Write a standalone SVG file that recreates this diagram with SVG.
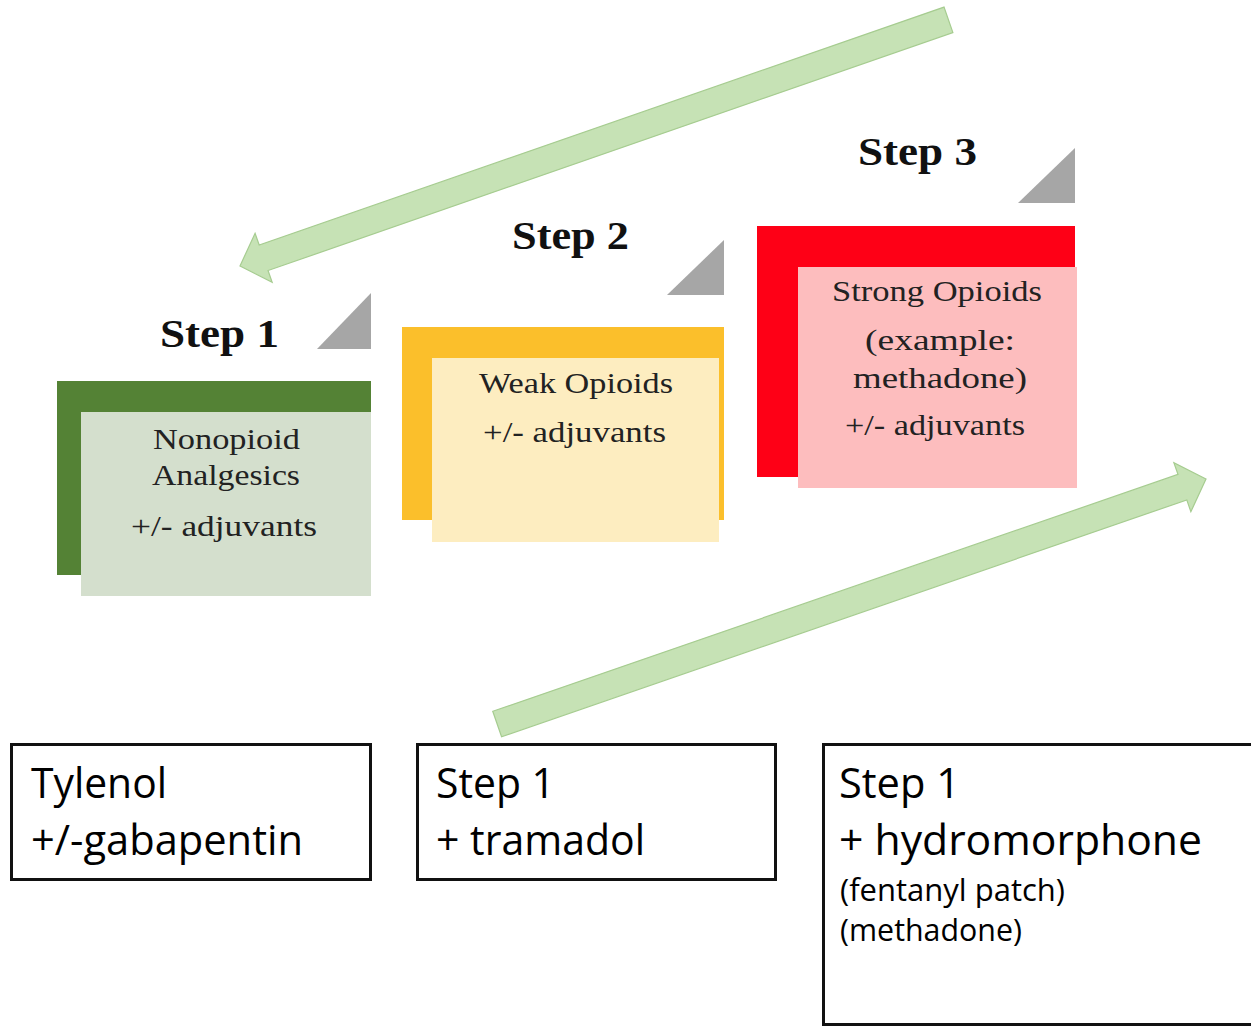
<svg xmlns="http://www.w3.org/2000/svg" width="1251" height="1027" viewBox="0 0 1251 1027">
<style>
.arrow{fill:#c6e2b5;stroke:#a6cc90;stroke-width:1.2}
.tri{fill:#a6a6a6}
.step{font-family:"Liberation Serif","Times New Roman",serif;font-weight:bold;font-size:41px;fill:#111}
.lbl{font-family:"Liberation Serif","Times New Roman",serif;font-size:28.5px;fill:#222}
.box{fill:#fff;stroke:#111;stroke-width:3}
.big{font-family:"Open Sans","Noto Sans",sans-serif;font-size:42px;fill:#000}
.small{font-family:"Open Sans","Noto Sans",sans-serif;font-size:31px;fill:#000}
</style>
<rect width="1251" height="1027" fill="#fff"/>
<g id="connectors">
  <polygon class="arrow" transform="translate(240,266) rotate(160.84)" points="0,0 -25,-26 -25,-13.5 -750,-13.5 -750,13.5 -25,13.5 -25,26"/>
  <polygon class="arrow" transform="translate(1206,479) rotate(-19.07)" points="0,0 -25,-26 -25,-13.5 -750,-13.5 -750,13.5 -25,13.5 -25,26"/>
</g>
<g id="step1">
  <text class="step" x="160" y="347" textLength="119" lengthAdjust="spacingAndGlyphs">Step 1</text>
  <polygon class="tri" points="317,349 371,349 371,293"/>
  <rect x="57" y="381" width="314" height="194" fill="#548235"/>
  <rect x="81" y="412" width="290" height="184" fill="#d4dfcd"/>
  <text class="lbl" x="153" y="449" textLength="147" lengthAdjust="spacingAndGlyphs">Nonopioid</text>
  <text class="lbl" x="152" y="485" textLength="148" lengthAdjust="spacingAndGlyphs">Analgesics</text>
  <text class="lbl" x="131" y="536" textLength="186" lengthAdjust="spacingAndGlyphs">+/- adjuvants</text>
</g>
<g id="step2">
  <text class="step" x="512" y="249" textLength="117" lengthAdjust="spacingAndGlyphs">Step 2</text>
  <polygon class="tri" points="667,295 724,295 724,240"/>
  <rect x="402" y="327" width="322" height="193" fill="#fbbf2b"/>
  <rect x="432" y="358" width="287" height="184" fill="#fdedc0"/>
  <text class="lbl" x="479" y="393" textLength="194" lengthAdjust="spacingAndGlyphs">Weak Opioids</text>
  <text class="lbl" x="483" y="442" textLength="183" lengthAdjust="spacingAndGlyphs">+/- adjuvants</text>
</g>
<g id="step3">
  <text class="step" x="858" y="165" textLength="119" lengthAdjust="spacingAndGlyphs">Step 3</text>
  <polygon class="tri" points="1018,203 1075,203 1075,148"/>
  <rect x="757" y="226" width="318" height="251" fill="#fe0016"/>
  <rect x="798" y="267" width="279" height="221" fill="#fdbdbe"/>
  <text class="lbl" x="832" y="301" textLength="210" lengthAdjust="spacingAndGlyphs">Strong Opioids</text>
  <text class="lbl" x="865" y="350" textLength="150" lengthAdjust="spacingAndGlyphs">(example:</text>
  <text class="lbl" x="853" y="388" textLength="174" lengthAdjust="spacingAndGlyphs">methadone)</text>
  <text class="lbl" x="845" y="435" textLength="180" lengthAdjust="spacingAndGlyphs">+/- adjuvants</text>
</g>
<g id="box-tylenol">
  <rect class="box" x="11.5" y="744.5" width="359" height="135"/>
  <text class="big" x="31" y="798" textLength="136" lengthAdjust="spacingAndGlyphs">Tylenol</text>
  <text class="big" x="31" y="855" textLength="272" lengthAdjust="spacingAndGlyphs">+/-gabapentin</text>
</g>
<g id="box-tramadol">
  <rect class="box" x="417.5" y="744.5" width="358" height="135"/>
  <text class="big" x="436" y="798" textLength="119" lengthAdjust="spacingAndGlyphs">Step 1</text>
  <text class="big" x="436" y="855" textLength="209" lengthAdjust="spacingAndGlyphs">+ tramadol</text>
</g>
<g id="box-hydromorphone">
  <rect class="box" x="823.5" y="744.5" width="440" height="280"/>
  <text class="big" x="839" y="798" textLength="121" lengthAdjust="spacingAndGlyphs">Step 1</text>
  <text class="big" x="839" y="855" textLength="363" lengthAdjust="spacingAndGlyphs">+ hydromorphone</text>
  <text class="small" x="840" y="901" textLength="225" lengthAdjust="spacingAndGlyphs">(fentanyl patch)</text>
  <text class="small" x="840" y="941" textLength="182" lengthAdjust="spacingAndGlyphs">(methadone)</text>
</g>
</svg>
